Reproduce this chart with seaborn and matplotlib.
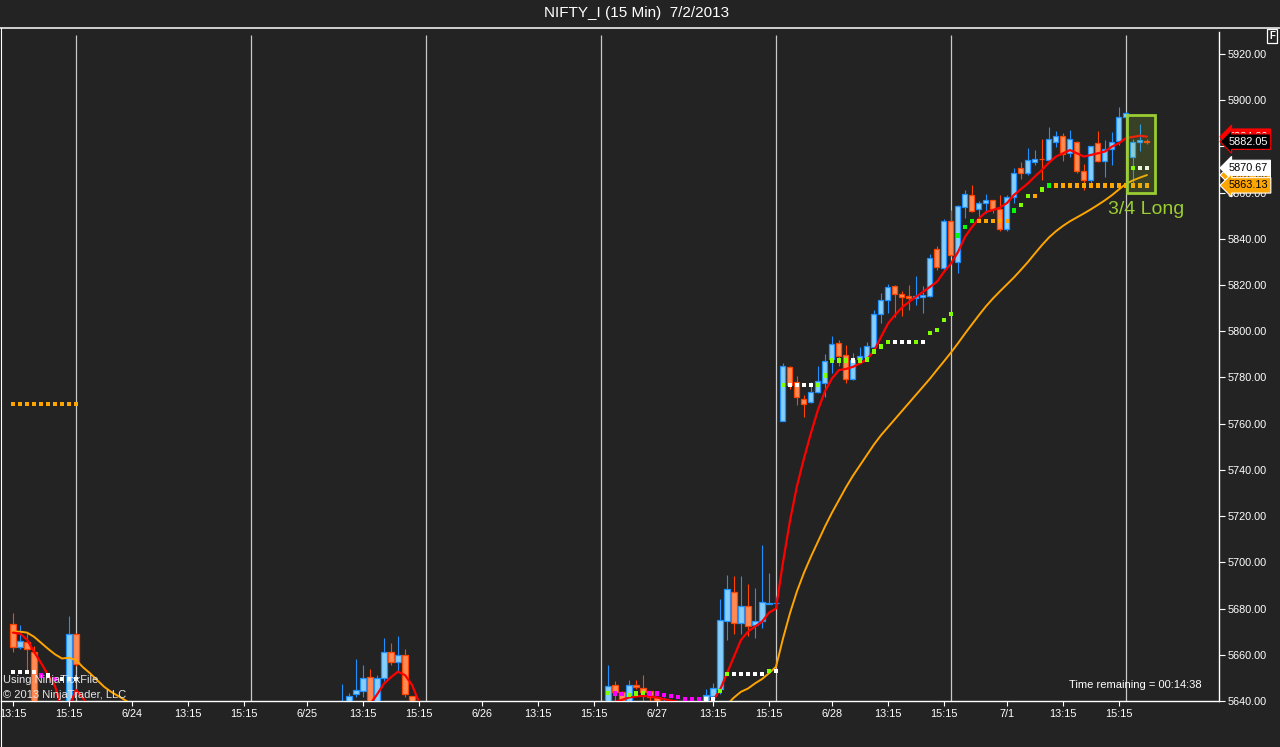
import numpy as np
import pandas as pd
import matplotlib
matplotlib.use("Agg")
import matplotlib.pyplot as plt
import seaborn as sns
from matplotlib.transforms import blended_transform_factory
from matplotlib.patches import Rectangle
from matplotlib.lines import Line2D

# ---------------- data ----------------
TITLE = "NIFTY_I (15 Min)  7/2/2013"
tick_pos = [1, 9, 18, 26, 34, 43, 51, 59, 68, 76, 84, 93, 101, 109, 118, 126, 134, 143, 151, 159]
tick_labels = ["13:15", "15:15", "6/24", "13:15", "15:15", "6/25", "13:15", "15:15", "6/26",
               "13:15", "15:15", "6/27", "13:15", "15:15", "6/28", "13:15", "15:15", "7/1",
               "13:15", "15:15"]
day_breaks = [10, 35, 60, 85, 110, 135, 160]
price_ticks = [5640, 5660, 5680, 5700, 5720, 5740, 5760, 5780, 5800, 5820, 5840, 5860, 5880, 5900, 5920]

bar_idx = [1, 2, 3, 4, 9, 10,
           48, 49, 50, 51, 52, 53, 54, 55, 56, 57, 58,
           86, 87, 88, 89, 90, 91, 92, 93, 94, 100, 101, 102, 103, 104, 105, 106, 107, 108, 109, 110,
           111, 112, 113, 114, 115, 116, 117, 118, 119, 120, 121, 122, 123, 124, 125, 126, 127, 128,
           129, 130, 131, 132, 133, 134, 135,
           136, 137, 138, 139, 140, 141, 142, 143, 144, 145, 146, 147, 148, 149, 150, 151, 152, 153,
           154, 155, 156, 157, 158, 159, 160,
           161, 162, 163]
bar_open = [5673.3, 5663.2, 5665.7, 5661.3, 5636.0, 5669.0,
            5630.0, 5636.0, 5642.9, 5644.5, 5650.6, 5638.0, 5649.8, 5661.0, 5656.7, 5660.1, 5642.3,
            5638.5, 5647.1, 5644.0, 5639.5, 5647.1, 5645.6, 5644.3, 5641.9, 5638.0, 5639.0, 5642.3,
            5645.4, 5674.6, 5687.3, 5673.8, 5681.2, 5673.1, 5674.6, 5682.1, 5682.4,
            5761.3, 5784.4, 5778.2, 5770.5, 5769.2, 5773.9, 5777.6, 5788.2, 5795.1, 5789.9, 5779.5,
            5788.0, 5789.0, 5793.2, 5807.4, 5813.7, 5819.6, 5816.1, 5815.3, 5814.2, 5815.0, 5815.4,
            5835.4, 5827.2, 5847.7,
            5830.1, 5853.9, 5859.0, 5852.7, 5855.3, 5857.0, 5853.1, 5844.4, 5858.1, 5870.5, 5868.3,
            5873.4, 5874.6, 5874.3, 5882.0, 5884.5, 5877.0, 5882.0, 5869.4, 5865.5, 5881.3, 5873.7,
            5878.7, 5882.5, 5892.6,
            5875.4, 5881.7, 5882.15]
bar_high = [5678.2, 5672.9, 5669.9, 5663.8, 5676.8, 5669.5,
            5647.4, 5643.3, 5658.0, 5655.6, 5654.0, 5651.3, 5667.1, 5664.9, 5668.1, 5662.4, 5642.3,
            5655.6, 5648.7, 5644.5, 5649.1, 5649.1, 5651.3, 5644.5, 5641.9, 5641.9, 5645.4, 5647.7,
            5684.1, 5694.5, 5694.2, 5694.2, 5690.6, 5688.8, 5707.5, 5695.2, 5685.1,
            5786.3, 5785.0, 5780.6, 5772.4, 5778.2, 5785.0, 5790.2, 5798.0, 5796.4, 5794.1, 5790.4,
            5793.0, 5795.5, 5809.2, 5816.7, 5820.5, 5820.0, 5817.4, 5820.0, 5823.9, 5819.6, 5833.5,
            5836.9, 5848.4, 5852.5,
            5854.7, 5861.3, 5863.3, 5856.3, 5859.6, 5857.0, 5859.0, 5859.0, 5870.5, 5873.3, 5879.3,
            5878.5, 5883.4, 5888.2, 5886.7, 5885.6, 5887.1, 5882.5, 5872.3, 5880.3, 5886.7, 5882.7,
            5886.2, 5896.9, 5895.0,
            5883.0, 5889.9, 5883.0]
bar_low = [5661.3, 5662.5, 5653.4, 5628.0, 5632.0, 5655.1,
           5628.0, 5634.0, 5641.6, 5641.9, 5634.0, 5635.0, 5648.8, 5655.6, 5652.7, 5641.9, 5630.0,
           5636.0, 5638.0, 5637.0, 5638.0, 5645.4, 5638.5, 5638.5, 5638.0, 5636.0, 5637.0, 5638.8,
           5643.2, 5666.4, 5669.0, 5669.0, 5668.1, 5667.4, 5671.4, 5682.0, 5681.5,
           5761.3, 5775.0, 5768.1, 5763.0, 5769.0, 5773.3, 5771.7, 5782.1, 5785.1, 5777.4, 5778.9,
           5787.5, 5788.5, 5792.5, 5803.4, 5807.7, 5806.2, 5806.5, 5809.2, 5811.4, 5808.0, 5815.0,
           5826.7, 5826.5, 5832.6,
           5825.3, 5848.8, 5851.6, 5848.8, 5851.2, 5851.0, 5843.5, 5843.2, 5855.3, 5865.9, 5867.6,
           5872.0, 5865.5, 5873.3, 5879.8, 5873.7, 5875.4, 5868.5, 5861.3, 5864.3, 5873.3, 5866.9,
           5872.0, 5880.6, 5892.0,
           5862.6, 5878.1, 5881.0]
bar_close = [5663.2, 5666.1, 5662.7, 5632.0, 5669.0, 5656.2,
             5635.0, 5642.2, 5644.8, 5649.8, 5638.0, 5649.8, 5661.0, 5656.7, 5659.9, 5643.2, 5636.0,
             5646.5, 5644.0, 5639.5, 5647.1, 5646.2, 5643.9, 5641.6, 5639.6, 5639.0, 5642.8, 5645.8,
             5675.1, 5688.3, 5673.8, 5681.2, 5672.6, 5674.8, 5682.8, 5682.2, 5682.5,
             5785.0, 5776.8, 5771.4, 5768.5, 5773.8, 5778.6, 5787.1, 5794.3, 5789.4, 5779.2, 5787.6,
             5789.1, 5793.6, 5807.5, 5813.6, 5819.0, 5816.3, 5815.0, 5814.2, 5815.3, 5815.7, 5831.5,
             5827.6, 5847.7, 5833.0,
             5854.2, 5859.2, 5852.1, 5855.3, 5856.8, 5853.1, 5844.4, 5857.9, 5868.6, 5868.3, 5874.3,
             5874.7, 5874.4, 5883.0, 5884.5, 5876.6, 5883.0, 5869.4, 5865.5, 5880.3, 5873.7, 5878.7,
             5882.0, 5892.6, 5894.3,
             5881.7, 5882.7, 5882.05]

# fast average (red), given as visible segments
red_seg1_idx = list(range(1, 13))
red_seg1_val = [5669.6, 5669.2, 5666.6, 5661.3, 5656.5, 5651.3, 5646.5, 5636.0, 5637.5, 5644.8, 5641.3, 5636.0]
red_seg2_idx = list(range(52, 61))
red_seg2_val = [5638.5, 5642.8, 5647.5, 5650.3, 5652.7, 5651.2, 5647.0, 5639.5, 5636.0]
red_seg3_idx = list(range(86, 164))
red_seg3_val = [5638.5, 5639.5, 5640.5, 5641.5, 5642.0, 5642.2, 5642.0, 5641.5, 5640.8, 5640.2,
                5639.6, 5639.0, 5638.6, 5638.4, 5638.8, 5640.2, 5644.8, 5652.0, 5659.2, 5666.4,
                5670.0, 5672.2, 5674.3, 5678.2, 5680.0, 5700.0, 5718.0, 5733.0, 5745.0, 5756.0,
                5766.0, 5774.0, 5779.6, 5783.2, 5783.7, 5784.6, 5786.1, 5787.8, 5791.5, 5797.5,
                5803.3, 5807.0, 5810.3, 5812.7, 5814.9, 5817.0, 5819.2, 5821.4, 5825.7, 5829.3,
                5834.3, 5840.8, 5845.1, 5848.8, 5851.6, 5852.5, 5853.5, 5855.5, 5859.0, 5861.5,
                5864.0, 5867.0, 5869.8, 5873.0, 5875.6, 5877.0, 5878.4, 5877.0, 5875.6, 5876.3,
                5877.0, 5877.8, 5879.9, 5881.4, 5883.6, 5884.1, 5884.6, 5884.2]

# slow average (orange)
org_seg1_idx = list(range(1, 19))
org_seg1_val = [5670.0, 5670.0, 5669.6, 5667.8, 5665.2, 5662.6, 5660.2, 5658.4, 5658.7, 5657.7,
                5654.6, 5652.0, 5649.1, 5646.2, 5644.0, 5642.2, 5640.4, 5638.5]
org_seg2_idx = list(range(103, 164))
org_seg2_val = [5638.5, 5641.5, 5644.0, 5645.4, 5647.6, 5649.5, 5652.0, 5654.8, 5667.0, 5678.0,
                5687.5, 5695.5, 5702.5, 5709.0, 5715.5, 5721.5, 5727.0, 5732.5, 5737.5, 5742.0,
                5746.5, 5751.0, 5755.0, 5758.5, 5762.0, 5765.5, 5769.0, 5772.5, 5776.0, 5779.5,
                5783.3, 5787.0, 5790.8, 5794.8, 5799.0, 5803.0, 5807.0, 5810.8, 5814.2, 5817.3,
                5820.3, 5823.3, 5826.6, 5830.0, 5833.7, 5837.3, 5840.6, 5843.3, 5845.6, 5847.6,
                5849.3, 5851.0, 5852.8, 5854.7, 5856.7, 5858.9, 5861.4, 5863.8, 5865.3, 5866.5,
                5867.6]

# square dot markers
dot_idx = [1, 2, 3, 4, 5, 6, 7, 8, 9, 10,
           1, 2, 3, 4, 5, 6, 7, 8, 9, 10,
           86, 87, 88, 89, 90, 91, 92, 93, 94, 95, 96, 97, 98, 99, 100, 101, 102, 103,
           104, 105, 106, 107, 108, 109, 110,
           111, 112, 113, 114, 115, 116, 117, 118, 119, 120, 121, 122, 123, 124, 125, 126,
           127, 128, 129, 130, 131, 132, 133, 134, 135,
           136, 137, 138, 139, 140, 141, 142, 143, 144, 145, 146, 147, 148, 149,
           150, 151, 152, 153, 154, 155, 156, 157, 158, 159, 160, 161, 162, 163,
           161, 162, 163]
dot_val = [5652.4, 5652.4, 5652.4, 5652.4, 5651.0, 5651.0, 5649.4, 5649.4, 5649.4, 5649.4,
           5768.5, 5768.5, 5768.5, 5768.5, 5768.5, 5768.5, 5768.5, 5768.5, 5768.5, 5768.5,
           5643.6, 5643.2, 5642.9, 5642.6, 5643.2, 5643.6, 5643.2, 5643.2, 5642.6, 5642.2,
           5641.7, 5640.7, 5640.7, 5640.7, 5640.7, 5640.7, 5644.3, 5651.7,
           5651.7, 5651.7, 5651.7, 5651.7, 5651.7, 5653.0, 5653.0,
           5776.8, 5776.8, 5776.8, 5776.8, 5776.8, 5776.8, 5780.8, 5787.3, 5787.3, 5787.3, 5787.3,
           5787.3, 5787.8, 5791.2, 5793.4, 5795.5,
           5795.5, 5795.5, 5795.5, 5795.5, 5795.5, 5799.4, 5800.6, 5804.9, 5807.6,
           5841.4, 5845.1, 5847.7, 5847.7, 5847.7, 5847.7, 5847.7, 5847.7, 5852.2, 5854.7, 5858.5,
           5858.5, 5861.3, 5863.13,
           5863.13, 5863.13, 5863.13, 5863.13, 5863.13, 5863.13, 5863.13, 5863.13, 5863.13, 5863.13,
           5863.13, 5863.13, 5863.13, 5863.13,
           5870.67, 5870.67, 5870.67]
dot_kind = ["white"] * 4 + ["magenta", "white", "magenta", "white", "white", "white"] + \
           ["orange"] * 10 + \
           ["lime", "magenta", "magenta", "lime", "lime", "lime", "magenta", "magenta", "magenta",
            "magenta", "magenta", "magenta", "magenta", "magenta", "white", "white", "lime", "lime",
            "white", "white", "white", "white", "white", "lime", "white"] + \
           ["lime", "white", "white", "white", "white", "lime", "lime", "lime", "lime", "lime",
            "white", "lime", "lime", "lime", "lime", "lime",
            "white", "white", "white", "lime", "white", "lime", "lime", "lime", "lime"] + \
           ["green", "green", "green", "orange", "orange", "orange", "orange", "orange", "green",
            "lime", "lime", "orange", "lime", "green"] + \
           ["orange"] * 14 + \
           ["lime", "white", "white"]

last_price = 5882.05
signal_text = "3/4 Long"

# ---------------- style ----------------
BG = "#232323"
sns.set_theme(style="dark", rc={"axes.facecolor": BG, "figure.facecolor": BG})
plt.rcParams["font.family"] = ["Liberation Sans", "DejaVu Sans"]

fig = plt.figure(figsize=(12.8, 7.47), dpi=100)
W, H = 1280, 747
ax_left, ax_right, ax_top, ax_bot = 1, 1219, 32, 701
ax = fig.add_axes([ax_left / W, (H - ax_bot) / H, (ax_right - ax_left) / W, (ax_bot - ax_top) / H])
ax.set_facecolor(BG)

x_lo, x_hi = -0.714, 173.29
y_lo, y_hi = 5640.0, 5929.5
ax.set_xlim(x_lo, x_hi)
ax.set_ylim(y_lo, y_hi)

# day separators
sep_top = 5928.2
ax.vlines(day_breaks, y_lo, sep_top, colors="#c8c8c8", linewidth=0.9, zorder=1)

# candles
bars = pd.DataFrame({"i": bar_idx, "o": bar_open, "h": bar_high, "l": bar_low, "c": bar_close})
up = bars["c"] >= bars["o"]
edge_up, fill_up = "#1E90FF", "#87CEFA"
edge_dn, fill_dn = "#FF4500", "#FF8C55"
edges = np.where(up, edge_up, edge_dn)
fills = np.where(up, fill_up, fill_dn)
ax.vlines(bars["i"], bars["l"], bars["h"], colors=edges, linewidth=0.8, zorder=2)
body_h = (bars["c"] - bars["o"]).abs()
body_b = bars[["o", "c"]].min(axis=1)
ax.bar(bars["i"], body_h, bottom=body_b, width=0.72, color=fills, edgecolor=edges,
       linewidth=0.9, zorder=3)

# average lines
red_df = pd.DataFrame({
    "i": red_seg1_idx + red_seg2_idx + red_seg3_idx,
    "v": red_seg1_val + red_seg2_val + red_seg3_val,
    "seg": [1] * len(red_seg1_idx) + [2] * len(red_seg2_idx) + [3] * len(red_seg3_idx)})
org_df = pd.DataFrame({
    "i": org_seg1_idx + org_seg2_idx,
    "v": org_seg1_val + org_seg2_val,
    "seg": [1] * len(org_seg1_idx) + [2] * len(org_seg2_idx)})
sns.lineplot(data=org_df, x="i", y="v", units="seg", estimator=None, color="#FFA500",
             linewidth=1.4, ax=ax, zorder=4, legend=False)
sns.lineplot(data=red_df, x="i", y="v", units="seg", estimator=None, color="#FF0000",
             linewidth=1.6, ax=ax, zorder=4, legend=False)

# dots
dots = pd.DataFrame({"i": dot_idx, "v": dot_val, "k": dot_kind})
pal = {"white": "#FFFFFF", "magenta": "#FF00FF", "lime": "#7FFF00", "green": "#00FF00",
       "orange": "#FFA500"}
sns.scatterplot(data=dots, x="i", y="v", hue="k", palette=pal, marker="s", s=9.5,
                linewidth=0, ax=ax, zorder=5, legend=False)

# signal box
box_x0, box_x1 = 160.2, 164.2
box_y0, box_y1 = 5859.7, 5893.6
ax.add_patch(Rectangle((box_x0, box_y0), box_x1 - box_x0, box_y1 - box_y0,
                       facecolor=(154 / 255, 205 / 255, 50 / 255, 0.18),
                       edgecolor="#9ACD32", linewidth=2.0, zorder=6))
ax.text(157.4, 5852.5, signal_text, color="#9ACD32", fontsize=14, ha="left", va="center",
        zorder=7)

# axes styling
for s in ["left", "top"]:
    ax.spines[s].set_visible(False)
for s in ["right", "bottom"]:
    ax.spines[s].set_visible(True)
    ax.spines[s].set_color("white")
    ax.spines[s].set_linewidth(1.0)
ax.yaxis.tick_right()
ax.set_yticks(price_ticks)
ax.set_yticklabels([f"{p:.2f}" for p in price_ticks])
ax.set_xticks(tick_pos)
ax.set_xticklabels(tick_labels)
ax.tick_params(axis="y", which="both", right=True, left=False, colors="white", labelcolor="white",
               labelsize=7.8, length=4.5, width=0.8, pad=1.5)
ax.tick_params(axis="x", which="both", bottom=True, colors="white", labelcolor="white",
               labelsize=7.8, length=3.5, width=0.8, pad=2)
ax.set_xlabel("")
ax.set_ylabel("")
ax.grid(False)

# price markers on the right axis (stacked, as in the platform)
tr = blended_transform_factory(ax.transAxes, ax.transData)
def marker(val, txt, fc, ec, tc, z):
    ax.text(1.0078, val, txt, transform=tr, ha="left", va="center", fontsize=7.8, color=tc,
            zorder=z, clip_on=False,
            bbox=dict(boxstyle="larrow,pad=0.25", fc=fc, ec=ec, lw=0.8))
marker(red_seg3_val[-1], f"{red_seg3_val[-1]:.2f}", "#FF0000", "#FF0000", "white", 8)
marker(last_price, f"{last_price:.2f}", "black", "#FF0000", "white", 9)
marker(org_seg2_val[-1], f"{org_seg2_val[-1]:.2f}", "#FFA500", "white", "black", 8)
marker(dot_val[-1], f"{dot_val[-1]:.2f}", "white", "white", "black", 9)
marker(5863.13, "5863.13", "#FFA500", "white", "black", 9)

# overlay texts
ax.text(0.0017, 0.0245, "Using NinjaTickFile", transform=ax.transAxes, color="#e6e6e6",
        fontsize=8, ha="left", va="bottom", zorder=10)
ax.text(0.0017, 0.0015, "\u00a9 2013 NinjaTrader, LLC", transform=ax.transAxes, color="#e6e6e6",
        fontsize=8, ha="left", va="bottom", zorder=10)
ax.text(0.986, 0.0165, "Time remaining = 00:14:38", transform=ax.transAxes, color="white",
        fontsize=8, ha="right", va="bottom", zorder=10)

# figure frame, title, F box
fig.add_artist(Line2D([0, 1], [1 - 27.5 / H, 1 - 27.5 / H], transform=fig.transFigure,
                      color="white", linewidth=1.1))
fig.add_artist(Line2D([1.2 / W, 1.2 / W], [0, 1 - 27.5 / H], transform=fig.transFigure,
                      color="white", linewidth=0.8))
fig.text(637 / W, 1 - 13 / H, TITLE, color="white", fontsize=11, ha="center", va="center")
fig.text(1272 / W, 1 - 36 / H, "F", color="white", fontsize=7, ha="center", va="center",
         fontweight="bold",
         bbox=dict(boxstyle="square,pad=0.25", fc="none", ec="white", lw=0.9))

fig.savefig("out.png", dpi=100, facecolor=BG)
